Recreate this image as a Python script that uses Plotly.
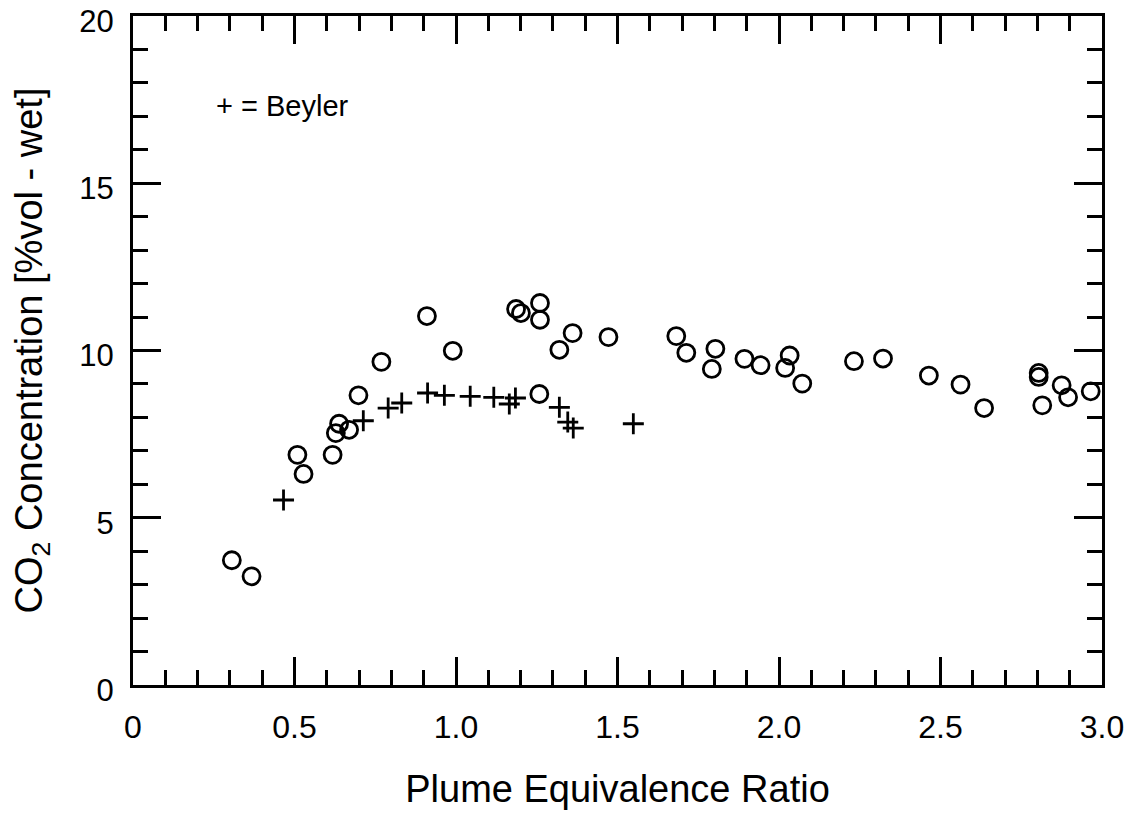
import plotly.graph_objects as go

# Open circles (this study)
circle_x = [0.306, 0.367, 0.509, 0.528, 0.618, 0.628, 0.638, 0.669, 0.698, 0.769,
            0.910, 0.990, 1.186, 1.201, 1.260, 1.260, 1.258, 1.361, 1.320, 1.472,
            1.682, 1.713, 1.803, 1.792, 1.893, 1.943, 2.033, 2.019, 2.072, 2.232,
            2.322, 2.464, 2.562, 2.635, 2.804, 2.804, 2.815, 2.875, 2.895, 2.965]
circle_y = [3.73, 3.25, 6.88, 6.31, 6.88, 7.53, 7.81, 7.63, 8.66, 9.66,
            11.03, 9.99, 11.24, 11.12, 11.42, 10.92, 8.70, 10.52, 10.02, 10.40,
            10.43, 9.93, 10.05, 9.45, 9.75, 9.56, 9.85, 9.48, 9.01, 9.68,
            9.76, 9.25, 8.98, 8.28, 9.33, 9.21, 8.36, 8.96, 8.60, 8.78]

# Plus signs (Beyler)
beyler_x = [0.466, 0.713, 0.790, 0.832, 0.912, 0.964, 1.044, 1.117, 1.165, 1.184,
            1.320, 1.346, 1.363, 1.549]
beyler_y = [5.53, 7.90, 8.28, 8.43, 8.73, 8.66, 8.63, 8.60, 8.40, 8.58,
            8.30, 7.86, 7.68, 7.81]

x_tickvals = [0, 0.5, 1.0, 1.5, 2.0, 2.5, 3.0]
x_ticktext = ["0", "0.5", "1.0", "1.5", "2.0", "2.5", "3.0"]
y_tickvals = [0, 5, 10, 15, 20]
y_ticktext = ["0", "5", "10", "15", "20"]

FONT = "Liberation Sans, Arial, Helvetica, sans-serif"

fig = go.Figure()
fig.add_trace(go.Scatter(
    x=circle_x, y=circle_y, mode="markers",
    marker=dict(symbol="circle-open", size=17, color="black", line=dict(width=2.8, color="black")),
    showlegend=False, cliponaxis=False))
fig.add_trace(go.Scatter(
    x=beyler_x, y=beyler_y, mode="markers",
    marker=dict(symbol="cross-thin-open", size=15, color="black", line=dict(width=2.8, color="black")),
    showlegend=False, cliponaxis=False))

axis_common = dict(
    showline=True, linecolor="black", linewidth=3, mirror="ticks",
    ticks="inside", tickcolor="black", tickwidth=3, ticklen=28,
    showgrid=False, zeroline=False, ticklabeloverflow="allow", automargin=False,
)

fig.update_xaxes(
    range=[0, 3.0], tickvals=x_tickvals, ticktext=x_ticktext,
    minor=dict(ticks="inside", dtick=0.1, tick0=0, ticklen=15, tickwidth=3, tickcolor="black", showgrid=False),
    title=dict(text="Plume Equivalence Ratio", font=dict(family=FONT, size=38, color="black"), standoff=31),
    ticklabelstandoff=12,
    tickfont=dict(family=FONT, size=32, color="black"),
    **axis_common)
fig.update_yaxes(
    range=[0, 20], tickvals=y_tickvals, ticktext=y_ticktext,
    minor=dict(ticks="inside", dtick=1, tick0=0, ticklen=15, tickwidth=3, tickcolor="black", showgrid=False),
    title=dict(text="CO<sub>2</sub> Concentration [%vol - wet]", font=dict(family=FONT, size=38, color="black"), standoff=38),
    ticklabelstandoff=10, ticklabelshift=5,
    tickfont=dict(family=FONT, size=31, color="black"),
    **axis_common)

fig.add_annotation(
    x=0.0836, y=0.866, xref="paper", yref="paper", xanchor="left", yanchor="middle",
    text="+ = Beyler", showarrow=False,
    font=dict(family=FONT, size=29, color="black"))

fig.update_layout(
    width=1146, height=824,
    margin=dict(l=125, r=52, t=8, b=147),
    paper_bgcolor="white", plot_bgcolor="white",
)

fig.write_html("out.html")
